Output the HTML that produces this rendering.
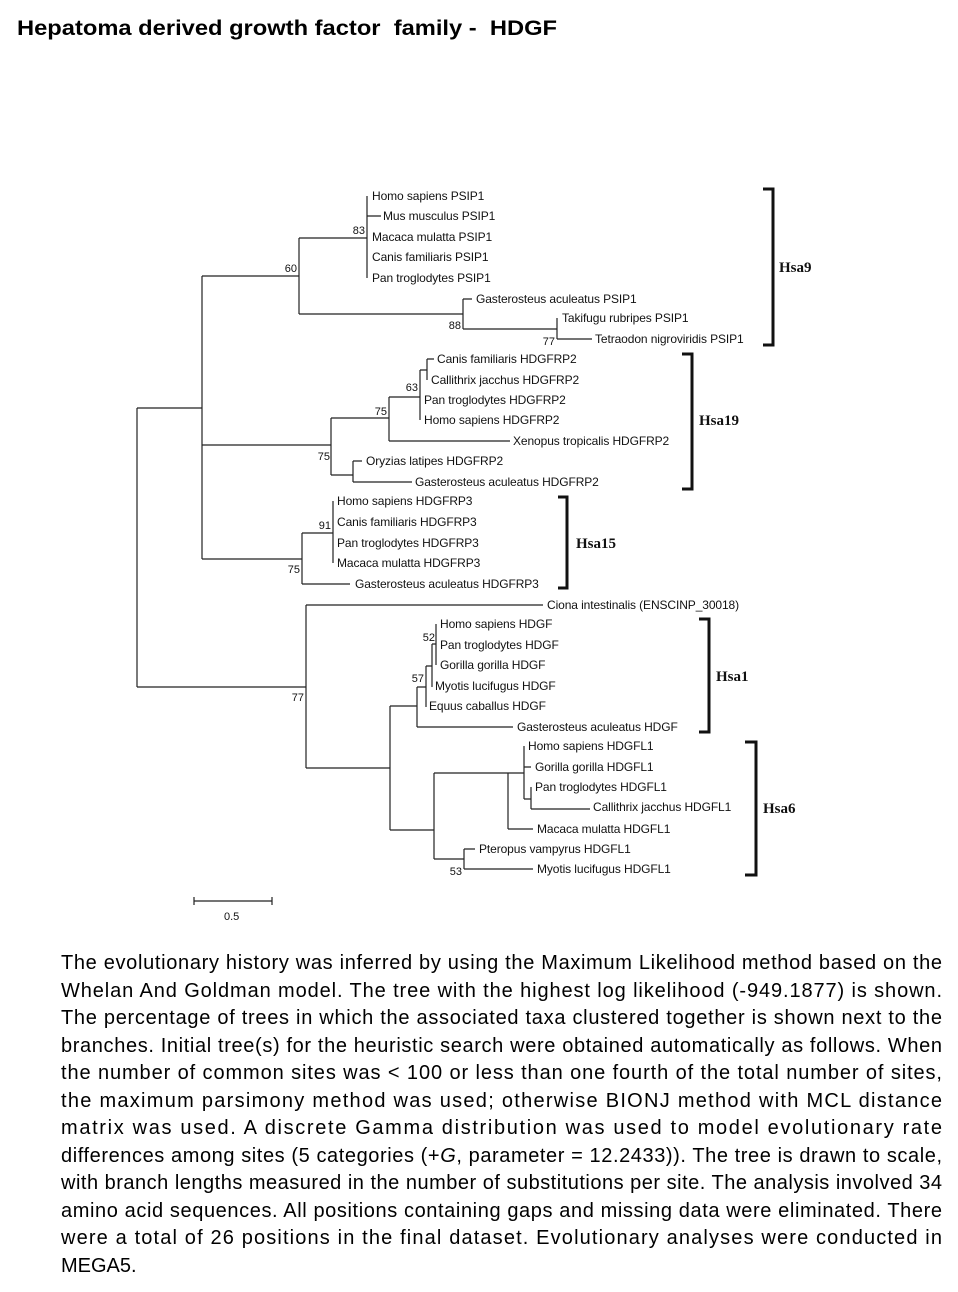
<!DOCTYPE html>
<html><head><meta charset="utf-8"><style>
html,body{margin:0;padding:0;background:#fff;}
svg{display:block;}
.t{font-family:"Liberation Sans",Arial,sans-serif;font-size:12px;letter-spacing:-0.1px;fill:#111;}
.b{font-family:"Liberation Sans",Arial,sans-serif;font-size:11px;fill:#111;}
.h{font-family:"Liberation Serif",serif;font-size:15px;font-weight:bold;fill:#111;}
.p{font-family:"Liberation Sans",Arial,sans-serif;font-size:20px;fill:#000;}
</style></head><body>
<svg width="958" height="1292" viewBox="0 0 958 1292" xmlns="http://www.w3.org/2000/svg">
<text x="17" y="35" font-family="Liberation Sans, Arial, sans-serif" font-size="21" font-weight="bold" textLength="540" lengthAdjust="spacingAndGlyphs" xml:space="preserve">Hepatoma derived growth factor  family -  HDGF</text>
<g stroke="#222" stroke-width="1.2" fill="none">
<path d="M137 408V687M137 408H202M137 687H306"/>
<path d="M202 276V559M202 276H299M202 445H331M202 559H302"/>
<path d="M299 238V314M299 238H367M299 314H463"/>
<path d="M367 196V278M367 216H381"/>
<path d="M463 299V329M463 299H472M463 329H557M557 318V339M557 339H592"/>
<path d="M331 418V475M331 418H389M331 475H353"/>
<path d="M389 397V441M389 397H420M389 441H510"/>
<path d="M420 370V420M420 370H427M427 359V380M427 359H434"/>
<path d="M353 461V482M353 461H362M353 482H412"/>
<path d="M302 533V584M302 533H333M302 584H350M333 501V563"/>
<path d="M306 605V768M306 605H543M306 768H390"/>
<path d="M390 706V830M390 706H417M390 830H434"/>
<path d="M417 687V727M417 687H426M417 727H513"/>
<path d="M426 666V707M426 666H432M432 644V687M432 644H436M436 624V665"/>
<path d="M434 773V859M434 773H508M434 859H464"/>
<path d="M508 773V829M508 773H524M508 829H533"/>
<path d="M524 746V799M524 767H531M524 799H531M531 787V809M531 809H590"/>
<path d="M464 849V869M464 849H475M464 869H533"/>
<path d="M194 901H272M194 897V905M272 897V905"/>
</g>
<g stroke="#111" stroke-width="3" fill="none">
<path d="M763 189H773V345H763"/>
<path d="M682 354H692V489H682"/>
<path d="M558 497H567V588H558"/>
<path d="M699 619H709V732H699"/>
<path d="M745 742H756V875H745"/>
</g>
<g class="h">
<text x="779" y="272">Hsa9</text>
<text x="699" y="425">Hsa19</text>
<text x="576" y="548">Hsa15</text>
<text x="716" y="681">Hsa1</text>
<text x="763" y="813">Hsa6</text>
</g>
<g class="t">
<text x="372" y="200">Homo sapiens PSIP1</text>
<text x="383" y="220">Mus musculus PSIP1</text>
<text x="372" y="241">Macaca mulatta PSIP1</text>
<text x="372" y="261">Canis familiaris PSIP1</text>
<text x="372" y="282">Pan troglodytes PSIP1</text>
<text x="476" y="303">Gasterosteus aculeatus PSIP1</text>
<text x="562" y="322">Takifugu rubripes PSIP1</text>
<text x="595" y="343">Tetraodon nigroviridis PSIP1</text>
<text x="437" y="363">Canis familiaris HDGFRP2</text>
<text x="431" y="384">Callithrix jacchus HDGFRP2</text>
<text x="424" y="404">Pan troglodytes HDGFRP2</text>
<text x="424" y="424">Homo sapiens HDGFRP2</text>
<text x="513" y="445">Xenopus tropicalis HDGFRP2</text>
<text x="366" y="465">Oryzias latipes HDGFRP2</text>
<text x="415" y="486">Gasterosteus aculeatus HDGFRP2</text>
<text x="337" y="505">Homo sapiens HDGFRP3</text>
<text x="337" y="526">Canis familiaris HDGFRP3</text>
<text x="337" y="547">Pan troglodytes HDGFRP3</text>
<text x="337" y="567">Macaca mulatta HDGFRP3</text>
<text x="355" y="588">Gasterosteus aculeatus HDGFRP3</text>
<text x="547" y="609">Ciona intestinalis (ENSCINP_30018)</text>
<text x="440" y="628">Homo sapiens HDGF</text>
<text x="440" y="649">Pan troglodytes HDGF</text>
<text x="440" y="669">Gorilla gorilla HDGF</text>
<text x="435" y="690">Myotis lucifugus HDGF</text>
<text x="429" y="710">Equus caballus HDGF</text>
<text x="517" y="731">Gasterosteus aculeatus HDGF</text>
<text x="528" y="750">Homo sapiens HDGFL1</text>
<text x="535" y="771">Gorilla gorilla HDGFL1</text>
<text x="535" y="791">Pan troglodytes HDGFL1</text>
<text x="593" y="811">Callithrix jacchus HDGFL1</text>
<text x="537" y="833">Macaca mulatta HDGFL1</text>
<text x="479" y="853">Pteropus vampyrus HDGFL1</text>
<text x="537" y="873">Myotis lucifugus HDGFL1</text>
</g>
<g class="b" text-anchor="end">
<text x="365" y="234">83</text>
<text x="297" y="272">60</text>
<text x="461" y="329">88</text>
<text x="555" y="345">77</text>
<text x="418" y="391">63</text>
<text x="387" y="415">75</text>
<text x="330" y="460">75</text>
<text x="331" y="529">91</text>
<text x="300" y="573">75</text>
<text x="435" y="641">52</text>
<text x="424" y="682">57</text>
<text x="304" y="701">77</text>
<text x="462" y="875">53</text>
</g>
<text class="b" x="224" y="920">0.5</text>
<g class="p">
<text x="61" y="969" textLength="881" lengthAdjust="spacing">The evolutionary history was inferred by using the Maximum Likelihood method based on the</text>
<text x="61" y="997" textLength="881" lengthAdjust="spacing">Whelan And Goldman model. The tree with the highest log likelihood (-949.1877) is shown.</text>
<text x="61" y="1024" textLength="881" lengthAdjust="spacing">The percentage of trees in which the associated taxa clustered together is shown next to the</text>
<text x="61" y="1052" textLength="881" lengthAdjust="spacing">branches. Initial tree(s) for the heuristic search were obtained automatically as follows. When</text>
<text x="61" y="1079" textLength="881" lengthAdjust="spacing">the number of common sites was &lt; 100 or less than one fourth of the total number of sites,</text>
<text x="61" y="1107" textLength="881" lengthAdjust="spacing">the maximum parsimony method was used; otherwise BIONJ method with MCL distance</text>
<text x="61" y="1134" textLength="881" lengthAdjust="spacing">matrix was used. A discrete Gamma distribution was used to model evolutionary rate</text>
<text x="61" y="1162" textLength="881" lengthAdjust="spacing">differences among sites (5 categories (+<tspan font-style="italic">G</tspan>, parameter = 12.2433)). The tree is drawn to scale,</text>
<text x="61" y="1189" textLength="881" lengthAdjust="spacing">with branch lengths measured in the number of substitutions per site. The analysis involved 34</text>
<text x="61" y="1217" textLength="881" lengthAdjust="spacing">amino acid sequences. All positions containing gaps and missing data were eliminated. There</text>
<text x="61" y="1244" textLength="881" lengthAdjust="spacing">were a total of 26 positions in the final dataset. Evolutionary analyses were conducted in</text>
<text x="61" y="1272">MEGA5.</text>
</g>
</svg>
</body></html>
